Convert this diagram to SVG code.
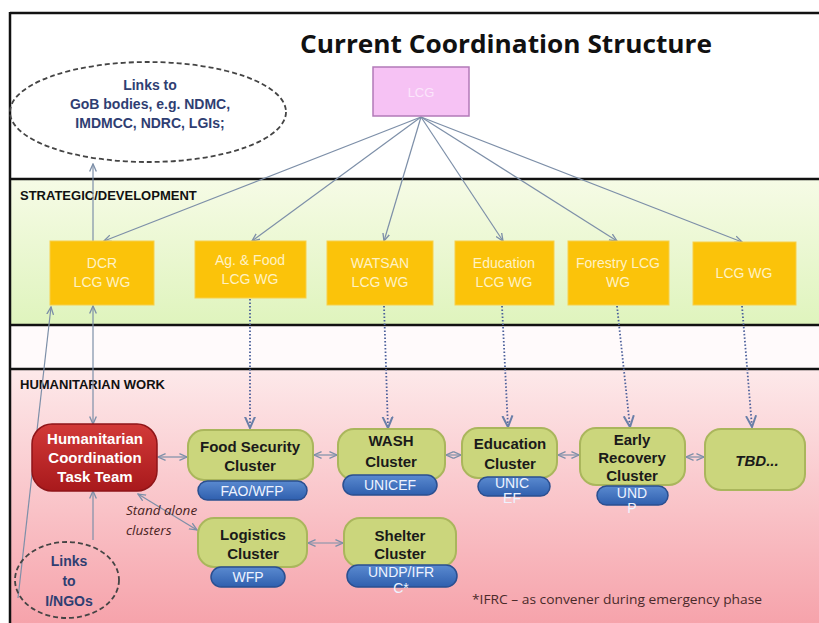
<svg xmlns="http://www.w3.org/2000/svg" width="819" height="623" viewBox="0 0 819 623">
  <defs>
    <linearGradient id="gStrat" x1="0" y1="0" x2="0" y2="1">
      <stop offset="0" stop-color="#f6fbe6"/>
      <stop offset="1" stop-color="#dff4bd"/>
    </linearGradient>
    <linearGradient id="gHum" x1="0" y1="0" x2="0" y2="1">
      <stop offset="0" stop-color="#fde9ea"/>
      <stop offset="1" stop-color="#f6a3ab"/>
    </linearGradient>
    <linearGradient id="gRed" x1="0" y1="0" x2="0" y2="1">
      <stop offset="0" stop-color="#d23a38"/>
      <stop offset="1" stop-color="#a8191c"/>
    </linearGradient>
    <linearGradient id="gBlue" x1="0" y1="0" x2="0" y2="1">
      <stop offset="0" stop-color="#5a8ad0"/>
      <stop offset="1" stop-color="#2f5fae"/>
    </linearGradient>
    <marker id="arr" viewBox="0 0 10 10" refX="9" refY="5" markerWidth="7" markerHeight="7" orient="auto-start-reverse">
      <path d="M0,1 L9,5 L0,9" fill="none" stroke="#7d8fa8" stroke-width="1.6"/>
    </marker>
    <marker id="arrD" viewBox="0 0 10 10" refX="9" refY="5" markerWidth="7" markerHeight="7" orient="auto">
      <path d="M0,1 L9,5 L0,9" fill="none" stroke="#6a7fa8" stroke-width="1.6"/>
    </marker>
  </defs>
  <style>
    .band { stroke: none; }
    .rule { stroke: #111; stroke-width: 2.5; }
    .lbl { font-family: "Liberation Sans", Arial, sans-serif; font-weight: bold; font-size: 13px; fill: #111; }
    .wg { fill: #fbc30a; stroke: #f7cf4a; stroke-width: 1; }
    .wgt { font-family: "Liberation Sans", Arial, sans-serif; font-size: 14px; fill: #fff2c4; text-anchor: middle; }
    .cl { fill: #cbd67c; stroke: #aab65c; stroke-width: 2; }
    .clt { font-family: "Liberation Sans", Arial, sans-serif; font-weight: bold; font-size: 15px; fill: #1a1a1a; text-anchor: middle; }
    .wt { fill: #ffffff; }
    .pill { fill: url(#gBlue); stroke: #2a4f90; stroke-width: 1.5; }
    .pt { font-family: "Liberation Sans", Arial, sans-serif; font-size: 14px; fill: #eef3ff; text-anchor: middle; }
    .ell { fill: none; stroke: #444; stroke-width: 1.8; stroke-dasharray: 5 3; }
    .et { font-family: "Liberation Sans", Arial, sans-serif; font-weight: bold; font-size: 14px; fill: #2f3e72; text-anchor: middle; }
    .ln { fill: none; stroke: #7d8fa8; stroke-width: 1.2; }
    .dot { fill: none; stroke: #4b5f9a; stroke-width: 1.8; stroke-dasharray: 1.5 2; }
    .note { font-family: "Open Sans", "Liberation Sans", sans-serif; font-style: italic; font-size: 13.5px; fill: #4a2424; }
  </style>

  <!-- background bands -->
  <rect class="band" x="10" y="13" width="809" height="166" fill="#ffffff"/>
  <rect class="band" x="10" y="179" width="809" height="146" fill="url(#gStrat)"/>
  <rect class="band" x="10" y="325" width="809" height="44" fill="#fffafb"/>
  <rect class="band" x="10" y="369" width="809" height="254" fill="url(#gHum)"/>
  <line class="rule" x1="10" y1="13" x2="819" y2="13"/>
  <line class="rule" x1="10" y1="12" x2="10" y2="623"/>
  <line class="rule" x1="10" y1="179" x2="819" y2="179"/>
  <line class="rule" x1="10" y1="325" x2="819" y2="325"/>
  <line class="rule" x1="10" y1="369" x2="819" y2="369"/>

  <text x="300" y="53" font-family="'Open Sans', 'Liberation Sans', sans-serif" font-weight="bold" font-size="25" fill="#111" textLength="412" lengthAdjust="spacingAndGlyphs">Current Coordination Structure</text>
  <text class="lbl" x="20" y="200">STRATEGIC/DEVELOPMENT</text>
  <text class="lbl" x="20" y="389">HUMANITARIAN WORK</text>

  <!-- connectors -->
  <g id="connectors">
    <line class="ln" x1="421" y1="117" x2="104" y2="241" marker-end="url(#arr)"/>
    <line class="ln" x1="421" y1="117" x2="252" y2="241" marker-end="url(#arr)"/>
    <line class="ln" x1="421" y1="117" x2="384" y2="241" marker-end="url(#arr)"/>
    <line class="ln" x1="421" y1="117" x2="503" y2="241" marker-end="url(#arr)"/>
    <line class="ln" x1="421" y1="117" x2="617" y2="241" marker-end="url(#arr)"/>
    <line class="ln" x1="421" y1="117" x2="742" y2="242" marker-end="url(#arr)"/>

    <line class="ln" x1="93" y1="241" x2="93" y2="164" marker-end="url(#arr)"/>
    <line class="ln" x1="93" y1="424" x2="93" y2="306" marker-start="url(#arr)" marker-end="url(#arr)"/>
    <line class="ln" x1="18" y1="598" x2="51" y2="307" marker-end="url(#arr)"/>
    <line class="ln" x1="93" y1="540" x2="93" y2="491" marker-end="url(#arr)"/>

    <line class="dot" x1="250" y1="299" x2="250" y2="428" marker-end="url(#arrD)"/>
    <line class="dot" x1="384" y1="306" x2="388" y2="428" marker-end="url(#arrD)"/>
    <line class="dot" x1="502" y1="306" x2="508" y2="427" marker-end="url(#arrD)"/>
    <line class="dot" x1="617" y1="306" x2="630" y2="427" marker-end="url(#arrD)"/>
    <line class="dot" x1="742" y1="306" x2="752" y2="427" marker-end="url(#arrD)"/>

    <line class="ln" x1="158" y1="457" x2="187" y2="457" marker-start="url(#arr)" marker-end="url(#arr)"/>
    <line class="ln" x1="314" y1="455" x2="337" y2="455" marker-start="url(#arr)" marker-end="url(#arr)"/>
    <line class="ln" x1="446" y1="455" x2="461" y2="455" marker-start="url(#arr)" marker-end="url(#arr)"/>
    <line class="ln" x1="558" y1="455" x2="579" y2="455" marker-start="url(#arr)" marker-end="url(#arr)"/>
    <line class="ln" x1="686" y1="457" x2="704" y2="457" marker-start="url(#arr)" marker-end="url(#arr)"/>
    <line class="ln" x1="308" y1="543" x2="343" y2="543" marker-start="url(#arr)" marker-end="url(#arr)"/>
    <line class="ln" x1="138" y1="494" x2="197" y2="530" marker-start="url(#arr)" marker-end="url(#arr)"/>
  </g>

  <!-- top level -->
  <g id="lcg">
    <rect x="373" y="67" width="96" height="49" fill="#f6c2f4" stroke="#b27ab8" stroke-width="1.5"/>
    <text x="421" y="97" font-family="'Liberation Sans', Arial, sans-serif" font-size="13" fill="#fbe6fb" text-anchor="middle">LCG</text>
  </g>
  <g id="links-gob">
    <ellipse class="ell" cx="148" cy="112" rx="138" ry="50"/>
    <text class="et" x="150" y="90">Links to</text>
    <text class="et" x="150" y="109">GoB bodies, e.g. NDMC,</text>
    <text class="et" x="150" y="128">IMDMCC, NDRC, LGIs;</text>
  </g>

  <!-- strategic working groups -->
  <g id="wg-dcr">
    <rect class="wg" x="50" y="241" width="104" height="64"/>
    <text class="wgt" x="102" y="268">DCR</text>
    <text class="wgt" x="102" y="287">LCG WG</text>
  </g>
  <g id="wg-agfood">
    <rect class="wg" x="195" y="241" width="111" height="57"/>
    <text class="wgt" x="250" y="265">Ag. &amp; Food</text>
    <text class="wgt" x="250" y="284">LCG WG</text>
  </g>
  <g id="wg-watsan">
    <rect class="wg" x="327" y="241" width="106" height="64"/>
    <text class="wgt" x="380" y="268">WATSAN</text>
    <text class="wgt" x="380" y="287">LCG WG</text>
  </g>
  <g id="wg-education">
    <rect class="wg" x="455" y="241" width="99" height="64"/>
    <text class="wgt" x="504" y="268">Education</text>
    <text class="wgt" x="504" y="287">LCG WG</text>
  </g>
  <g id="wg-forestry">
    <rect class="wg" x="568" y="241" width="101" height="64"/>
    <text class="wgt" x="618" y="268">Forestry LCG</text>
    <text class="wgt" x="618" y="287">WG</text>
  </g>
  <g id="wg-lcg">
    <rect class="wg" x="693" y="242" width="103" height="63"/>
    <text class="wgt" x="744" y="278">LCG WG</text>
  </g>

  <!-- humanitarian work -->
  <g id="hctt">
    <rect x="32" y="424" width="125" height="67" rx="20" fill="url(#gRed)" stroke="#8f1518" stroke-width="1.5"/>
    <text class="clt wt" x="95" y="444">Humanitarian</text>
    <text class="clt wt" x="95" y="463">Coordination</text>
    <text class="clt wt" x="95" y="482">Task Team</text>
  </g>
  <g id="links-ingo">
    <ellipse class="ell" cx="67" cy="580" rx="52" ry="38"/>
    <text class="et" x="69" y="566">Links</text>
    <text class="et" x="69" y="586">to</text>
    <text class="et" x="69" y="606">I/NGOs</text>
  </g>
  <g id="stand-alone">
    <text class="note" x="126" y="515">Stand alone</text>
    <text class="note" x="126" y="535">clusters</text>
  </g>

  <g id="food-security">
    <rect class="cl" x="188" y="430" width="125" height="50" rx="16"/>
    <text class="clt" x="250" y="452">Food Security</text>
    <text class="clt" x="250" y="471">Cluster</text>
    <rect class="pill" x="198" y="481" width="109" height="19" rx="9.5"/>
    <text class="pt" x="252" y="496">FAO/WFP</text>
  </g>
  <g id="wash">
    <rect class="cl" x="338" y="429" width="107" height="51" rx="16"/>
    <text class="clt" x="391" y="446">WASH</text>
    <text class="clt" x="391" y="467">Cluster</text>
    <rect class="pill" x="343" y="475" width="94" height="20" rx="10"/>
    <text class="pt" x="390" y="490">UNICEF</text>
  </g>
  <g id="education">
    <rect class="cl" x="462" y="428" width="95" height="50" rx="16"/>
    <text class="clt" x="510" y="449">Education</text>
    <text class="clt" x="510" y="469">Cluster</text>
    <rect class="pill" x="478" y="477" width="72" height="19" rx="9.5"/>
    <text class="pt" x="512" y="488">UNIC</text>
    <text class="pt" x="512" y="503">EF</text>
  </g>
  <g id="early-recovery">
    <rect class="cl" x="580" y="428" width="105" height="57" rx="16"/>
    <text class="clt" x="632" y="445">Early</text>
    <text class="clt" x="632" y="463">Recovery</text>
    <text class="clt" x="632" y="481">Cluster</text>
    <rect class="pill" x="597" y="486" width="71" height="19" rx="9.5"/>
    <text class="pt" x="632" y="498">UND</text>
    <text class="pt" x="632" y="513">P</text>
  </g>
  <g id="tbd">
    <rect class="cl" x="705" y="429" width="100" height="61" rx="16"/>
    <text class="clt" x="757" y="466" font-style="italic">TBD...</text>
  </g>
  <g id="logistics">
    <rect class="cl" x="198" y="518" width="109" height="49" rx="16"/>
    <text class="clt" x="253" y="540">Logistics</text>
    <text class="clt" x="253" y="559">Cluster</text>
    <rect class="pill" x="211" y="567" width="74" height="20" rx="10"/>
    <text class="pt" x="248" y="582">WFP</text>
  </g>
  <g id="shelter">
    <rect class="cl" x="344" y="518" width="112" height="49" rx="16"/>
    <text class="clt" x="400" y="541">Shelter</text>
    <text class="clt" x="400" y="559">Cluster</text>
    <rect class="pill" x="347" y="565" width="110" height="22" rx="11"/>
    <text class="pt" x="401" y="577">UNDP/IFR</text>
    <text class="pt" x="401" y="593">C*</text>
  </g>

  <text x="472" y="604" font-family="'Open Sans', 'Liberation Sans', sans-serif" font-size="12" fill="#4a2a2a" textLength="290" lengthAdjust="spacingAndGlyphs">*IFRC – as convener during emergency phase</text>
</svg>
